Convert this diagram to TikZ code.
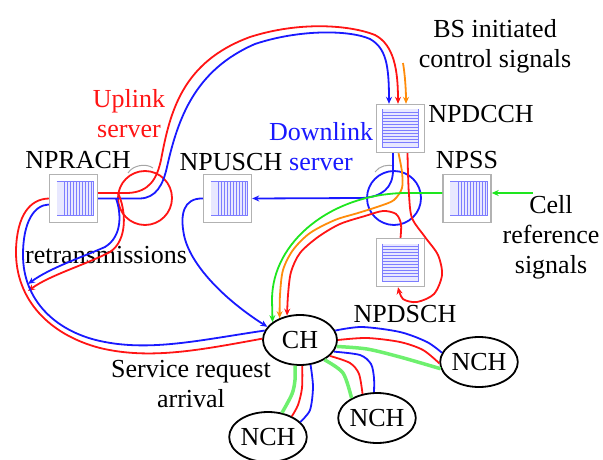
\documentclass[tikz,border=0pt]{standalone}
\usepackage{fontspec}
\setmainfont{Liberation Serif}
\usetikzlibrary{arrows.meta,shapes.geometric}
\definecolor{upred}{RGB}{255,20,20}
\definecolor{dnblue}{RGB}{25,25,255}
\definecolor{sigorange}{RGB}{255,140,10}
\definecolor{siggreen}{RGB}{30,230,30}
\definecolor{lgreen}{RGB}{110,240,110}
\definecolor{qblue}{RGB}{125,125,255}
\definecolor{qfill}{RGB}{232,232,255}

% queue drawn inside a box node, open on the left
\newcommand{\hqueue}[1]{%
  \begin{scope}[shift={(#1.center)}]
    \fill[qfill] (-17,-17) rectangle (20,17);
    \draw[qline] (-17,-17) -- (20,-17) -- (20,17) -- (-17,17);
    \foreach \x in {-9,-6,...,18} \draw[qline] (\x,-17) -- (\x,17);
  \end{scope}}
% queue drawn inside a box node, open on the top
\newcommand{\vqueue}[1]{%
  \begin{scope}[shift={(#1.center)}]
    \fill[qfill] (-18,-19) rectangle (18,19);
    \draw[qline] (-18,-19) -- (-18,19) -- (18,19) -- (18,-19);
    \foreach \y in {-16,-13,...,14} \draw[qline] (-18,\y) -- (18,\y);
  \end{scope}}

\begin{document}
\begin{tikzpicture}[x=1pt,y=-1pt,line width=1.8pt,
  font=\fontsize{26}{30}\selectfont,
  qbox/.style={draw=gray!60, fill=white, line width=1.4pt, minimum size=48pt, inner sep=0pt},
  qline/.style={qblue, line width=0.8pt},
  chan/.style={draw, ellipse, line width=1.8pt, minimum width=74pt, minimum height=50pt, inner sep=0pt},
  srv/.style={draw, circle, line width=1.8pt, minimum size=54pt, inner sep=0pt},
  lbl/.style={anchor=base, align=center, inner sep=0pt},
  arr/.style={-{Stealth[length=7pt,width=6pt]}},
  nchline/.style={lgreen, line width=3.5pt}]
\useasboundingbox (0,0) rectangle (603,460);

% queues
\node[qbox] (rach) at (73.5,198.5) {};
\node[qbox] (usch) at (227.5,198.5) {};
\node[qbox] (pss) at (467,198.5) {};
\node[qbox] (dcch) at (400.5,128.5) {};
\node[qbox] (dsch) at (400.5,262.5) {};
\hqueue{rach}
\hqueue{usch}
\hqueue{pss}
\vqueue{dcch}
\vqueue{dsch}

% servers
\node[srv, draw=upred] (upsrv) at (145,198) {};
\node[srv, draw=dnblue] (dnsrv) at (394,198) {};
\draw[gray!70, line width=1pt] (128,173) .. controls (133,165) and (146,163) .. (153,168);
\draw[gray!70, line width=1pt] (375,172) .. controls (379,166) and (388,164) .. (394,166);

% channels
\node[chan] (ch) at (300,340) {CH};
\node[chan] (ncha) at (479,362) {NCH};
\node[chan] (nchb) at (377,418) {NCH};
\node[chan] (nchc) at (268,437) {NCH};

% labels (base = last line)
\node[lbl] (bslbl) at (495,67) {BS initiated\\control signals};
\node[lbl, text=upred] (uplbl) at (129,138) {Uplink\\server};
\node[lbl, text=dnblue] (dnlbl) at (321,170) {Downlink\\server};
\node[lbl] (rachlbl) at (78,168) {NPRACH};
\node[lbl] (uschlbl) at (231,170) {NPUSCH};
\node[lbl] (psslbl) at (467,168) {NPSS};
\node[lbl] (dcchlbl) at (481,123) {NPDCCH};
\node[lbl] (dschlbl) at (405,322) {NPDSCH};
\node[lbl] (celllbl) at (551,273) {Cell\\reference\\signals};
\node[lbl] (retxlbl) at (106,263) {retransmissions};
\node[lbl] (srvlbl) at (191,407) {Service request\\arrival};

\coordinate (rtx) at (118,193);
\coordinate (btx) at (116,198.5);
\coordinate (bs) at (403,63);
\coordinate (cell) at (533,193);

% uplink to NPDCCH
\draw[upred, arr] ([yshift=5.5pt]rach.east) -- (128,193) .. controls (150,192) and (157,178) .. (161,160)
  .. controls (170,112) and (182,62) .. (250,37) .. controls (300,21) and (350,25) .. (375,35)
  .. controls (394,45) and (398,70) .. ([xshift=-2.5pt]dcch.north);
\draw[dnblue, arr] (rach.east) -- (140,198.5) .. controls (156,198) and (163,185) .. (167,167)
  .. controls (178,118) and (195,70) .. (255,44) .. controls (300,29) and (350,30) .. (370,39)
  .. controls (386,48) and (389,65) .. ([xshift=-11.5pt]dcch.north);

% retransmissions
\draw[upred, arr] (rtx) .. controls (126,210) and (128,240) .. (110,252) .. controls (85,265) and (50,275) .. (28,291);
\draw[dnblue, arr] (btx) .. controls (121,212) and (123,236) .. (105,247) .. controls (80,258) and (50,268) .. (28,284);

% service request loop
\draw[upred] (ch.178) .. controls (200,350) and (150,360) .. (100,348) .. controls (50,335) and (15,300) .. (16,250)
  .. controls (17,215) and (30,199) .. (rach.west);
\draw[dnblue] (ch.165) .. controls (200,340) and (150,352) .. (100,341) .. controls (55,331) and (23,300) .. (23,255)
  .. controls (23,222) and (34,205) .. ([yshift=-6pt]rach.west);

% downlink
\draw[dnblue, arr] ([xshift=-7.5pt]dcch.south) -- (393,170) .. controls (393,188) and (382,197) .. (362,198) -- (usch.east);
\draw[dnblue, arr] (usch.west) .. controls (183,198) and (180,215) .. (184,235) .. controls (190,265) and (225,300) .. (ch.158);

% control and reference signals
\draw[sigorange, arr] (bs) .. controls (405,75) and (406,90) .. ([xshift=5.5pt]dcch.north);
\draw[sigorange, arr] plot[smooth] coordinates {([xshift=-2pt]dcch.south) (402,172) (402,188) (394,200) (380,206)
  (358,213) (335,220) (310,233) (293,250) (283,270) (280,295) (ch.133)};
\draw[siggreen, arr] (cell) -- ([yshift=5.5pt]pss.east);
\draw[siggreen, arr] ([yshift=5.5pt]pss.west) -- (405,193) .. controls (332,194) and (272,241) .. (272,300) -- (ch.147);
\draw[upred, arr] plot[smooth] coordinates {(dsch.north) (401,224) (396,214) (383,211) (365,216) (340,224)
  (318,237) (300,253) (291,272) (288,295) (ch.118)};
\draw[upred, arr] plot[smooth] coordinates {([xshift=7pt]dcch.south) (408,173) (409,195) (412,218) (425,237)
  (438,255) (442,275) (434,294) (417,302) (403,299) ([xshift=-2.5pt]dsch.south)};

% CH to NCH
\draw[dnblue] plot[smooth] coordinates {(ch.15) (362,327) (400,332) (427,342) (ncha.166)};
\draw[upred] plot[smooth] coordinates {(ch.0) (367,338) (400,342) (423,350) (ncha.182)};
\draw[nchline] plot[smooth] coordinates {(ch.350) (367,349) (400,357) (ncha.190)};
\draw[dnblue] plot[smooth] coordinates {(ch.341) (360,355) (371,364) (374,378) ([xshift=-3pt]nchb.north)};
\draw[upred] plot[smooth] coordinates {(ch.332) (350,363) (359,374) (nchb.121)};
\draw[nchline] plot[smooth] coordinates {(ch.321) (343,373) (nchb.142)};
\draw[nchline] plot[smooth] coordinates {(ch.259) (295,380) (292,394) (nchc.60)};
\draw[upred] plot[smooth] coordinates {(ch.275) (302,388) (298,405) (nchc.41)};
\draw[dnblue] plot[smooth] coordinates {(ch.293) (313,387) (310,410) (nchc.25)};
\end{tikzpicture}
\end{document}
